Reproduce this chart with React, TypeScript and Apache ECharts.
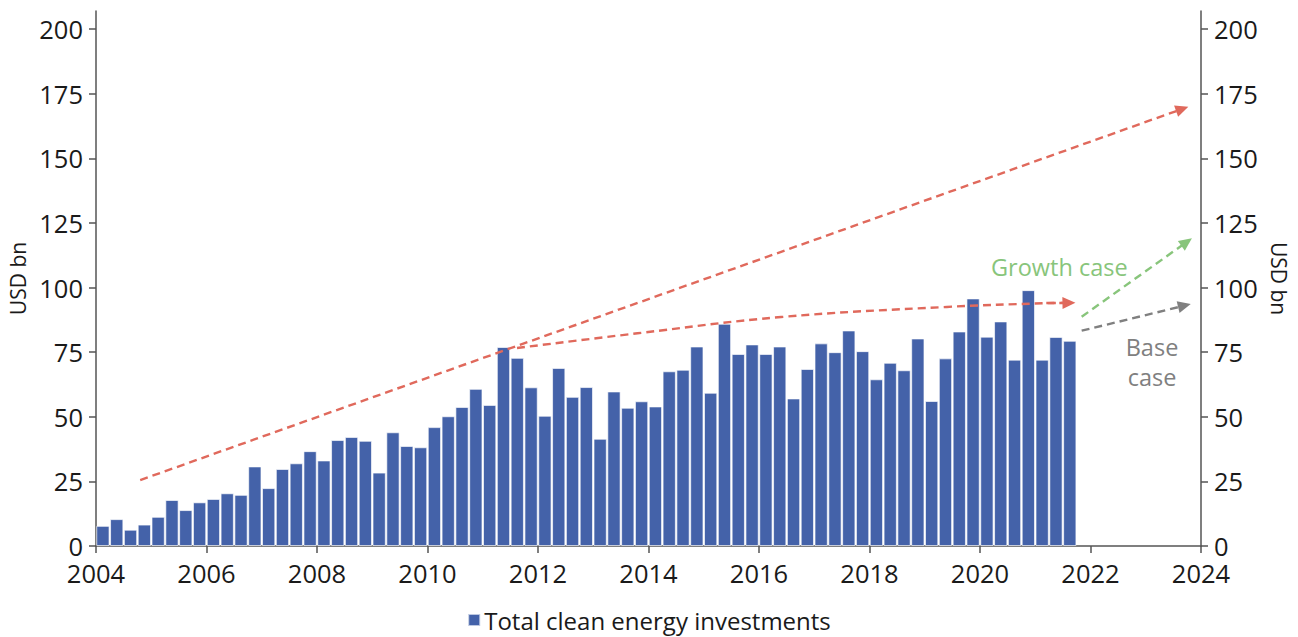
import React, { useEffect, useRef } from "react";
import * as echarts from "echarts";

const START_YEAR = 2004;
const SERIES_NAME = "Total clean energy investments";

// Quarterly investments, USD bn, 2004 Q1 .. 2021 Q3
const investments = [
  7.8, 10.4, 6.3, 8.3, 11.3, 17.8, 13.9, 16.9, 18.2, 20.4,
  19.8, 30.8, 22.4, 29.8, 32, 36.7, 33.1, 41, 42.2, 40.7,
  28.4, 44, 38.7, 38.2, 46, 50.2, 53.8, 60.8, 54.6, 77,
  72.8, 61.4, 50.4, 68.9, 57.7, 61.5, 41.5, 59.8, 53.5, 56,
  54, 67.6, 68.2, 77.2, 59.3, 86, 74.3, 78, 74.3, 77.2,
  57.1, 68.5, 78.4, 75, 83.4, 75.4, 64.5, 70.9, 68, 80.3,
  56.1, 72.6, 83, 95.8, 81, 86.9, 72.1, 99, 72.1, 80.9, 79.4,
];

const yTicks = [0, 25, 50, 75, 100, 125, 150, 175, 200];

// Trend / scenario arrows: [year, USD bn]
const longTrend = [
  [2004.8, 25.5],
  [2023.66, 169.1],
];
const curvedTrend = [
  [2011.62, 76.6],
  [2013.8, 82.3],
  [2016.4, 88.6],
  [2019.4, 92.5],
  [2021.2, 93.95],
  [2021.61, 94.1],
];
const growthCase = [
  [2021.84, 88.7],
  [2023.74, 117.6],
];
const baseCase = [
  [2021.84, 83.3],
  [2023.7, 93.0],
];

const FONT = "'Open Sans', Roboto, sans-serif";
const BAR_COLOR = "#4462A9";
const RED = "#E0695C";
const GREEN = "#88C57B";
const GREY = "#808080";
const TXT = "#1a1a1a";

function arrow(from: number[], to: number[], color: string) {
  const ls = { color, width: 2.4, type: [8, 5] as any };
  return [
    { coord: from, symbol: "none", lineStyle: ls },
    { coord: to, symbol: "triangle", symbolSize: [12, 13], lineStyle: ls, itemStyle: { color } },
  ];
}

export default function App() {
  const ref = useRef<HTMLDivElement>(null);

  useEffect(() => {
    if (!ref.current) return;
    const chart = echarts.init(ref.current, null, { renderer: "svg" });

    const barData = investments.map((v, i) => [START_YEAR + (i + 0.5) / 4, v]);
    const n = curvedTrend.length;

    const yAxisCommon = {
      type: "value",
      min: 0,
      max: 207,
      interval: 25,
      splitLine: { show: false },
      axisLine: { show: true, lineStyle: { color: "#555", width: 1.5 } },
      axisTick: { show: true, length: 7, customValues: yTicks, lineStyle: { color: "#555", width: 1.5 } },
      axisLabel: {
        customValues: yTicks,
        fontSize: 25.5,
        lineHeight: 20,
        color: TXT,
        fontFamily: FONT,
        margin: 13,
      },
      name: "USD bn",
      nameLocation: "middle",
      nameGap: 66,
      nameTextStyle: { fontSize: 21, color: TXT, fontFamily: FONT },
    };

    chart.setOption({
      animation: false,
      textStyle: { fontFamily: FONT },
      grid: { left: 96, right: 97, top: 11, bottom: 91, containLabel: false, outerBoundsMode: "none" },
      legend: {
        data: [SERIES_NAME],
        left: "center",
        top: 608,
        padding: 0,
        itemWidth: 12,
        itemHeight: 12,
        itemGap: 4,
        icon: "rect",
        textStyle: { fontSize: 24, color: TXT, fontFamily: FONT, padding: [0, 0, 0, -1] },
      },
      xAxis: {
        type: "value",
        min: 2004,
        max: 2024,
        interval: 2,
        splitLine: { show: false },
        axisLine: { show: true, onZero: false, lineStyle: { color: "#555", width: 1.5 } },
        axisTick: { show: true, length: 7, lineStyle: { color: "#555", width: 1.5 } },
        axisLabel: {
          fontSize: 25.5,
          lineHeight: 20,
          color: TXT,
          fontFamily: FONT,
          margin: 17,
          formatter: (v: number) => String(v),
        },
      },
      yAxis: [
        { ...yAxisCommon, position: "left", nameRotate: 90 },
        { ...yAxisCommon, position: "right", nameRotate: -90 },
      ],
      series: [
        {
          name: SERIES_NAME,
          type: "bar",
          data: barData,
          barWidth: 13.3,
          itemStyle: { color: BAR_COLOR, borderColor: "rgba(255,255,255,0.65)", borderWidth: 1 },
          silent: true,
        },
        {
          name: "trend",
          type: "line",
          data: curvedTrend,
          smooth: 0.4,
          symbol: "none",
          silent: true,
          lineStyle: { color: RED, width: 2.4, type: [8, 5] },
          z: 5,
          markLine: {
            silent: true,
            animation: false,
            label: { show: false },
            emphasis: { disabled: true },
            data: [
              arrow(longTrend[0], longTrend[1], RED),
              arrow(curvedTrend[n - 2], curvedTrend[n - 1], RED),
              arrow(growthCase[0], growthCase[1], GREEN),
              arrow(baseCase[0], baseCase[1], GREY),
            ],
          },
        },
      ],
      graphic: [
        {
          type: "text",
          x: 991,
          y: 267,
          silent: true,
          style: { text: "Growth case", fill: GREEN, font: `23.5px ${FONT}`, align: "left", verticalAlign: "middle" },
        },
        {
          type: "text",
          x: 1152,
          y: 347,
          silent: true,
          style: { text: "Base", fill: GREY, font: `23.5px ${FONT}`, align: "center", verticalAlign: "middle" },
        },
        {
          type: "text",
          x: 1152,
          y: 377,
          silent: true,
          style: { text: "case", fill: GREY, font: `23.5px ${FONT}`, align: "center", verticalAlign: "middle" },
        },
      ],
    });

    return () => chart.dispose();
  }, []);

  return (
    <div
      ref={ref}
      style={{ position: "fixed", left: 0, top: 0, width: 1298, height: 637, background: "#fff" }}
    />
  );
}
